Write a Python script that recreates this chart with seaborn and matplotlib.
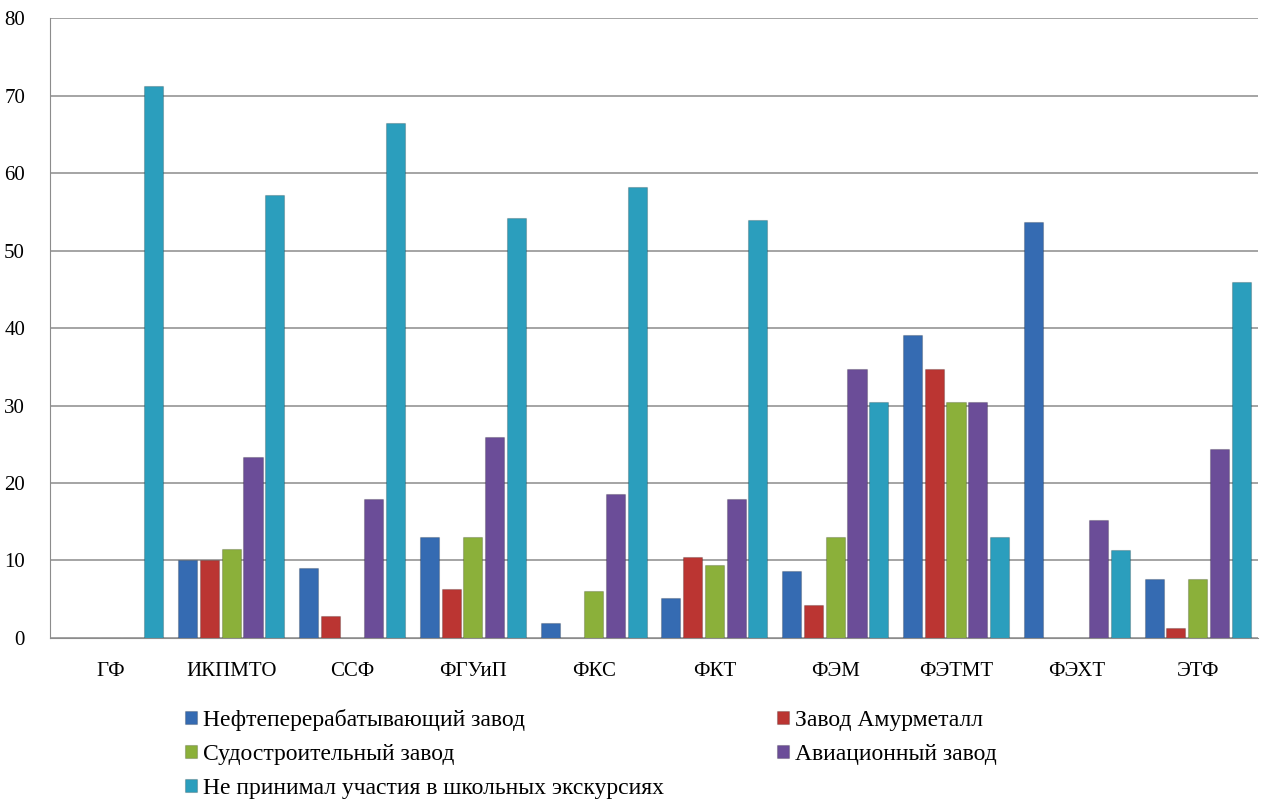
import matplotlib.pyplot as plt
import pandas as pd
import seaborn as sns

# Values (%), one list per series
faculties = ['ГФ', 'ИКПМТО', 'ССФ', 'ФГУиП', 'ФКС', 'ФКТ', 'ФЭМ', 'ФЭТМТ', 'ФЭХТ', 'ЭТФ']
series_names = ['Нефтеперерабатывающий завод', 'Завод Амурметалл', 'Судостроительный завод',
                'Авиационный завод', 'Не принимал участия в школьных экскурсиях']
neft = [0, 10.1, 9.0, 13.0, 1.9, 5.2, 8.6, 39.1, 53.7, 7.6]
amurmetall = [0, 10.1, 2.9, 6.3, 0, 10.4, 4.3, 34.7, 0, 1.3]
sudostr = [0, 11.5, 0, 13.0, 6.1, 9.4, 13.0, 30.4, 0, 7.6]
avia = [0, 23.3, 18.0, 26.0, 18.6, 17.9, 34.7, 30.4, 15.2, 24.4]
no_excursion = [71.2, 57.1, 66.5, 54.2, 58.2, 54.0, 30.4, 13.0, 11.3, 45.9]

colors = ['#356BB2', '#BB3532', '#8BB03A', '#6B4D98', '#2B9EBD']

rows = []
for name, vals in zip(series_names, [neft, amurmetall, sudostr, avia, no_excursion]):
    for fac, v in zip(faculties, vals):
        rows.append({'Факультет': fac, 'Серия': name, 'Значение': v})
df = pd.DataFrame(rows)

sns.set_style('white')
plt.rcParams['font.family'] = ['Liberation Serif', 'DejaVu Serif']
plt.rcParams['text.color'] = 'black'

fig = plt.figure(figsize=(12.66, 8.01), dpi=100)
ax = fig.add_axes([0.0395, 0.2035, 0.9542, 0.774])

sns.barplot(data=df, x='Факультет', y='Значение', hue='Серия', hue_order=series_names,
            palette=colors, width=0.9, gap=0.12, ax=ax, legend=True,
            edgecolor='#00000030', linewidth=0.8, saturation=1)

ax.set_ylim(0, 80)
ax.set_yticks(range(0, 81, 10))
ax.set_xlim(-0.5, len(faculties) - 0.5)
ax.yaxis.grid(True, color='#8c8c8c', linewidth=1.1)
ax.set_axisbelow(True)
for s in ['top', 'right']:
    ax.spines[s].set_visible(False)
ax.spines['left'].set_color('#8c8c8c')
ax.spines['bottom'].set_color('#8c8c8c')
ax.tick_params(axis='both', labelsize=15, length=0, colors='black')
ax.tick_params(axis='y', pad=18)
ax.tick_params(axis='x', pad=17)
ax.set_xlabel('')
ax.set_ylabel('')

# row-wise legend order in two columns
handles, labels = ax.get_legend_handles_labels()
order = [0, 2, 4, 1, 3]
ax.legend([handles[i] for i in order], [labels[i] for i in order],
          loc='upper left', bbox_to_anchor=(0.102, -0.095), ncol=2,
          frameon=False, fontsize=17, borderpad=0, handlelength=0.5, handleheight=0.5,
          handletextpad=0.25, columnspacing=4.8, labelspacing=0.55)

fig.savefig('out.png', dpi=100)
